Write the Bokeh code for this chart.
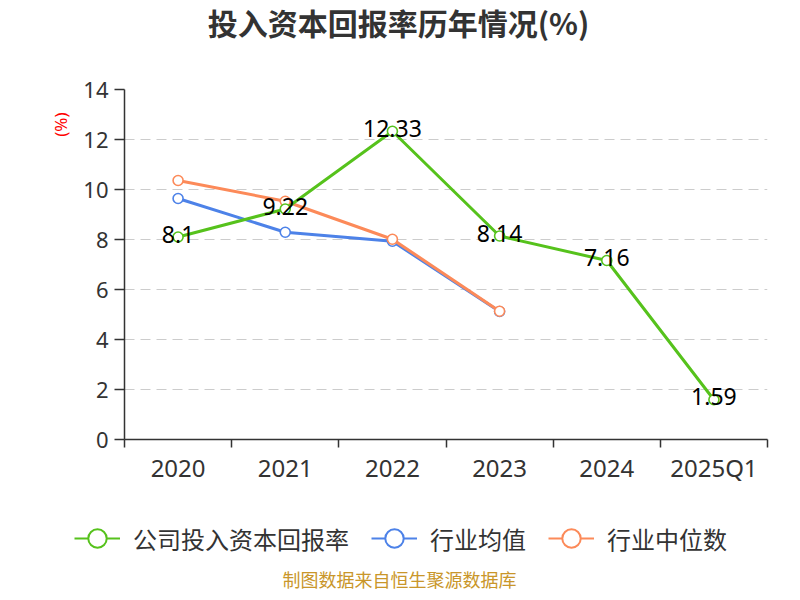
from bokeh.plotting import figure
from bokeh.layouts import column
from bokeh.models import (ColumnDataSource, FixedTicker, Legend, LegendItem, Title, Range1d, Label)
from bokeh.core.properties import value
from bokeh.embed import file_html
from bokeh.resources import INLINE

categories = ["2020", "2021", "2022", "2023", "2024", "2025Q1"]
company = [8.1, 9.22, 12.33, 8.14, 7.16, 1.59]
industry_avg = [9.64, 8.29, 7.93, 5.12]
industry_median = [10.36, 9.53, 8.01, 5.13]
y_ticks = [0, 2, 4, 6, 8, 10, 12, 14]
series_names = ["公司投入资本回报率", "行业均值", "行业中位数"]
title_text = "投入资本回报率历年情况(%)"
source_text = "制图数据来自恒生聚源数据库"

GREEN = "#56c21c"
BLUE = "#4d82e8"
ORANGE = "#fc8a59"
NUM_FONT = "Noto Sans"
CJK_FONT = "Noto Sans CJK SC"

xs = [i + 0.5 for i in range(len(categories))]

# ---- top strip: title ----
t = figure(width=784, height=60, output_backend="svg", toolbar_location=None,
           x_range=Range1d(0, 784), y_range=Range1d(0, 60), x_axis_type=None, y_axis_type=None,
           min_border=0)
t.frame_align = False
t.outline_line_color = None
t.grid.grid_line_color = None
t.add_layout(Label(x=398, y=39, text=title_text, text_align="center", text_baseline="middle",
                   text_font=CJK_FONT, text_font_size="30px", text_font_style="bold",
                   text_color="#333333"))

# ---- main chart ----
p = figure(width=784, height=430, output_backend="svg", toolbar_location=None,
           x_range=Range1d(0, len(categories)), y_range=Range1d(0, 14),
           min_border_left=124, min_border_right=17, min_border_top=29, min_border_bottom=51)
p.frame_align = False
p.outline_line_color = None
p.background_fill_color = "white"

p.add_layout(Title(text="(%)", align="right", offset=23, standoff=18, text_color="red",
                   text_font=NUM_FONT, text_font_size="17px", text_font_style="normal"), "left")

xa = p.xaxis[0]
xa.ticker = FixedTicker(ticks=xs, minor_ticks=list(range(len(categories) + 1)))
xa.major_label_overrides = {x: c for x, c in zip(xs, categories)}
xa.major_tick_out = 0
xa.major_tick_in = 0
xa.minor_tick_out = 8
xa.minor_tick_in = 0
xa.minor_tick_line_color = "#333333"
xa.minor_tick_line_width = 1.5
xa.axis_line_color = "#333333"
xa.axis_line_width = 1.5
xa.major_label_text_font = NUM_FONT
xa.major_label_text_font_size = "24px"
xa.major_label_text_color = "#333333"
xa.major_label_standoff = 3

ya = p.yaxis[0]
ya.ticker = FixedTicker(ticks=y_ticks)
ya.minor_tick_line_color = None
ya.major_tick_out = 10
ya.major_tick_in = 0
ya.major_tick_line_color = "#333333"
ya.major_tick_line_width = 1.5
ya.axis_line_color = "#333333"
ya.axis_line_width = 1.5
ya.major_label_text_font = NUM_FONT
ya.major_label_text_font_size = "22px"
ya.major_label_text_color = "#333333"
ya.major_label_standoff = 6

p.xgrid.grid_line_color = None
p.ygrid.ticker = FixedTicker(ticks=y_ticks[1:])
p.ygrid.grid_line_color = "#cccccc"
p.ygrid.grid_line_dash = "10 6"
p.ygrid.grid_line_width = 1.2

src_c = ColumnDataSource(dict(x=xs, y=company, lab=[str(v) for v in company]))
src_a = ColumnDataSource(dict(x=xs[:len(industry_avg)], y=industry_avg))
src_m = ColumnDataSource(dict(x=xs[:len(industry_median)], y=industry_median))
sources = [src_c, src_a, src_m]
colors = [GREEN, BLUE, ORANGE]

for src, col in [(src_a, BLUE), (src_m, ORANGE), (src_c, GREEN)]:
    p.line("x", "y", source=src, line_color=col, line_width=3)
    p.scatter("x", "y", source=src, size=10, fill_color="white", line_color=col, line_width=1.6)

p.text("x", "y", text="lab", source=src_c, text_align="center", text_baseline="middle",
       y_offset=-3, text_font=value(NUM_FONT), text_font_size="23px", text_color="black")

# ---- bottom strip: legend + source ----
q = figure(width=784, height=102, output_backend="svg", toolbar_location=None,
           x_range=Range1d(0, 784), y_range=Range1d(-100, 2), x_axis_type=None, y_axis_type=None,
           min_border=0)
q.frame_align = False
q.outline_line_color = None
q.grid.grid_line_color = None

items = []
for name, src, col in zip(series_names, sources, colors):
    r1 = q.line("x", "y", source=src, line_color=col, line_width=2, visible=False)
    r2 = q.scatter("x", "y", source=src, size=10, fill_color="white", line_color=col,
                   line_width=2, visible=False)
    items.append(LegendItem(label=name, renderers=[r1, r2]))

legend = Legend(items=items, orientation="horizontal", location=(74, 31))
legend.label_text_font = CJK_FONT
legend.label_text_font_size = "24px"
legend.label_text_color = "#333333"
legend.glyph_width = 46
legend.glyph_height = 46
legend.spacing = 22
legend.label_standoff = 13
legend.border_line_color = None
legend.background_fill_alpha = 0
legend.inactive_fill_alpha = 0
legend.margin = 0
legend.padding = 0
q.add_layout(legend, "center")

q.add_layout(Label(x=399, y=-86, text=source_text, text_align="center",
                   text_baseline="middle", text_font=CJK_FONT, text_font_size="18px",
                   text_color="#c9962a"))

layout = column(t, p, q, spacing=0)
open("out.html", "w").write(file_html(layout, INLINE))
